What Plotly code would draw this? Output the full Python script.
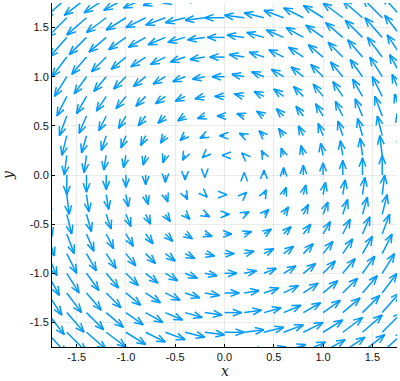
import math
import plotly.graph_objects as go

# Grid of arrow tails (data units)
grid_x = [-1.8, -1.6, -1.4, -1.2, -1.0, -0.8, -0.6, -0.4, -0.2, 0.0,
          0.2, 0.4, 0.6, 0.8, 1.0, 1.2, 1.4, 1.6, 1.8]
grid_y = [-1.8, -1.6, -1.4, -1.2, -1.0, -0.8, -0.6, -0.4, -0.2, 0.0,
          0.2, 0.4, 0.6, 0.8, 1.0, 1.2, 1.4, 1.6, 1.8]
# Horizontal component for each row (indexed like grid_y)
u_by_row = [0.225, 0.2, 0.175, 0.15, 0.125, 0.1, 0.075, 0.05, 0.025, 0.0,
            -0.025, -0.05, -0.075, -0.1, -0.125, -0.15, -0.175, -0.2, -0.225]
# Vertical component for each column (indexed like grid_x)
v_by_col = [-0.225, -0.2, -0.175, -0.15, -0.125, -0.1, -0.075, -0.05, -0.025, 0.0,
            0.025, 0.05, 0.075, 0.1, 0.125, 0.15, 0.175, 0.2, 0.225]

tick_vals = [-1.5, -1.0, -0.5, 0.0, 0.5, 1.0, 1.5]
tick_text = ["-1.5", "-1.0", "-0.5", "0.0", "0.5", "1.0", "1.5"]

W, H = 400, 381
ML, MR, MT, MB = 52, 3, 3, 34
XR = [-1.75, 1.75]
YR = [-1.75, 1.75]
sx = (W - ML - MR) / (XR[1] - XR[0])
sy = (H - MT - MB) / (YR[1] - YR[0])

head_len_px = 9.5
head_ang = math.radians(21)

xs, ys = [], []
for i, y0 in enumerate(grid_y):
    for j, x0 in enumerate(grid_x):
        u = u_by_row[i]
        v = v_by_col[j]
        if u == 0 and v == 0:
            continue
        x1, y1 = x0 + u, y0 + v
        xs += [x0, x1, None]
        ys += [y0, y1, None]
        dx, dy = u * sx, v * sy
        n = math.hypot(dx, dy)
        ux, uy = dx / n, dy / n
        for sgn in (1, -1):
            c, s = math.cos(sgn * head_ang), math.sin(sgn * head_ang)
            rx = ux * c - uy * s
            ry = ux * s + uy * c
            hx = x1 - head_len_px * rx / sx
            hy = y1 - head_len_px * ry / sy
            xs += [x1, hx, None]
            ys += [y1, hy, None]

fig = go.Figure()
fig.add_trace(go.Scatter(x=xs, y=ys, mode="lines",
                         line=dict(color="#009AFA", width=1.5),
                         hoverinfo="skip", showlegend=False))

axis_common = dict(
    showgrid=True, gridcolor="rgba(0,0,0,0.08)", gridwidth=1,
    zeroline=False, showline=True, linecolor="black", linewidth=1,
    ticks="inside", ticklen=3, tickcolor="black",
    tickvals=tick_vals, ticktext=tick_text,
    tickfont=dict(family="Liberation Sans", size=11, color="#111"),
)
fig.update_xaxes(range=XR, **axis_common)
fig.update_yaxes(range=YR, **axis_common)

fig.add_annotation(text="<i>x</i>", xref="paper", yref="paper", x=0.5, y=0,
                   yanchor="top", yshift=-14, showarrow=False,
                   font=dict(family="DejaVu Serif", size=14, color="#222"))
fig.add_annotation(text="<i>y</i>", xref="paper", yref="paper", x=0, y=0.5,
                   xanchor="center", xshift=-44, showarrow=False, textangle=-90,
                   font=dict(family="DejaVu Serif", size=14, color="#222"))

fig.update_layout(width=W, height=H, margin=dict(l=ML, r=MR, t=MT, b=MB),
                  plot_bgcolor="white", paper_bgcolor="white")
fig.write_html("out.html")
